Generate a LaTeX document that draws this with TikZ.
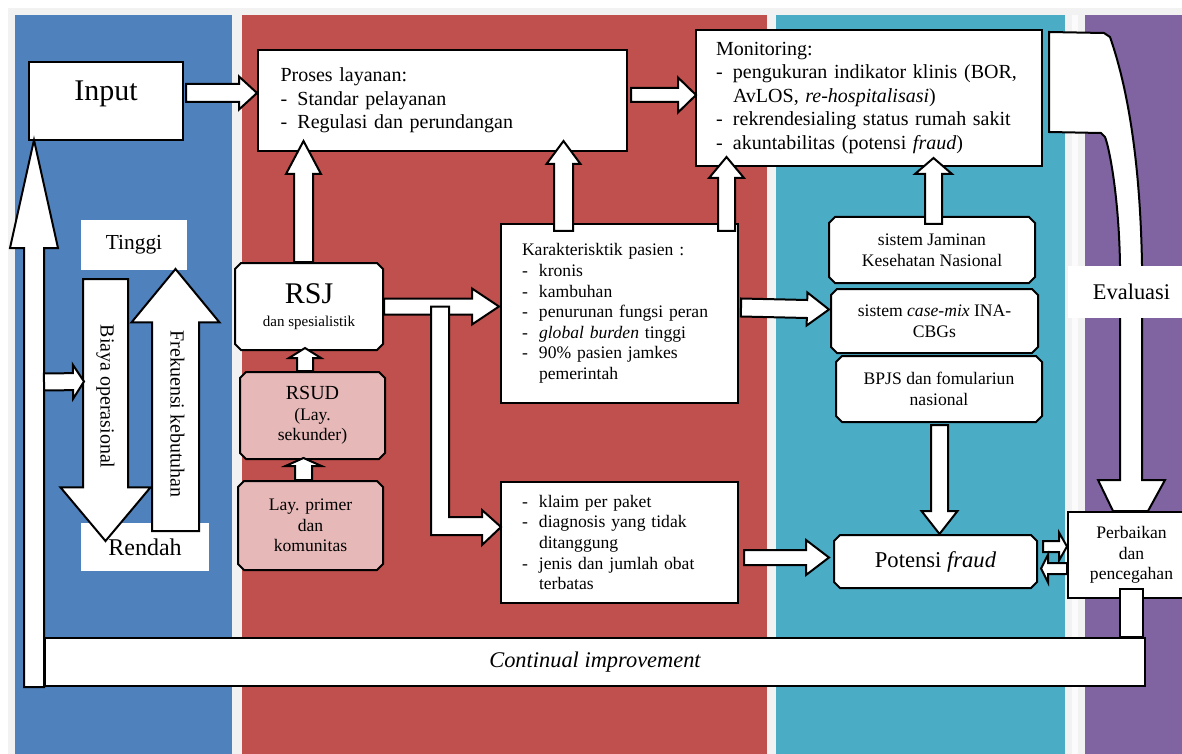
\documentclass[tikz,border=0pt]{standalone}
\usepackage{fontspec}
\setmainfont{Liberation Serif}
\usetikzlibrary{positioning,calc,shapes.misc,shapes.arrows}

\definecolor{panelblue}{HTML}{4F81BD}
\definecolor{panelred}{HTML}{C0504D}
\definecolor{panelcyan}{HTML}{4BACC6}
\definecolor{panelpurple}{HTML}{8064A2}
\definecolor{pinkfill}{HTML}{E6B9B8}
\definecolor{bggray}{HTML}{F2F2F2}

\newcommand{\fsbig}{\fontsize{10}{11.75}\selectfont}
\newcommand{\fssmall}{\fontsize{8.8}{10.3}\selectfont}
\newcommand{\dashitem}{\makebox[8.5pt][l]{-}}
\newcommand{\hang}{\hspace*{8.5pt}}

% block arrow: from, to, half shaft, half head, head length
\newcommand{\blkarrow}[5]{%
  \coordinate (ta) at #1;
  \coordinate (tb) at #2;
  \coordinate (hb) at ($(tb)!#5!(ta)$);
  \draw[blk] ($(ta)!#3!90:(tb)$) -- ($(hb)!#3!-90:(ta)$) -- ($(hb)!#4!-90:(ta)$) -- (tb)
    -- ($(hb)!#4!90:(ta)$) -- ($(hb)!#3!90:(ta)$) -- ($(ta)!#3!-90:(tb)$) -- cycle;}

\begin{document}
\begin{tikzpicture}[
    x=0.5pt, y=-0.5pt,
    blk/.style={draw, fill=white, line width=1pt, line join=miter},
    plainbox/.style={rectangle, draw, fill=white, line width=1pt, inner sep=0pt},
    listbox/.style={plainbox, align=left, font=\fssmall, text width=97.5pt, minimum width=118.5pt},
    chbox/.style={chamfered rectangle, chamfered rectangle xsep=1.5pt, chamfered rectangle ysep=1.5pt,
        draw, fill=white, line width=1pt, align=center, font=\fssmall, inner sep=0pt},
    pinkbox/.style={chbox, fill=pinkfill},
    tag/.style={rectangle, fill=white, inner sep=0pt},
    scalearrow/.style={single arrow, draw, fill=white, line width=1pt, rotate=-90, anchor=tail,
        minimum height=131pt, text height=7pt, text depth=2pt, font=\fsbig}
]
\useasboundingbox (0,0) rectangle (1182,754);
\clip (0,0) rectangle (1182,754);

% Panels
\fill[white] (0,0) rectangle (1182,754);
\fill[bggray] (8,8) rectangle (1182,754);
\fill[panelblue] (15,15) rectangle (232,754);
\fill[panelred] (242,15) rectangle (767,754);
\fill[panelcyan] (776,15) rectangle (1065,754);
\fill[white!70!bggray] (1072,15) rectangle (1078,754);
\fill[panelpurple] (1085,15) rectangle (1182,754);

% Left column
\node[tag, minimum width=53pt, minimum height=25pt, font=\fontsize{10.7}{12}\selectfont] (tinggi) at (134,245) {Tinggi};
\node[tag, minimum width=64pt, minimum height=24pt, font=\fontsize{12}{14}\selectfont] (rendah) at (145,547) {Rendah};
\node[plainbox, minimum width=77pt, minimum height=39pt, text depth=10pt, font=\fontsize{15}{18}\selectfont] (input) at (106,101) {Input};

% Service column
\node[plainbox, align=left, font=\fsbig, text width=162pt, minimum width=184.5pt, minimum height=50.5pt] (proses) at (442.5,100.5)
    {Proses layanan:\\ \dashitem Standar pelayanan\\ \dashitem Regulasi dan perundangan};
\node[chbox, minimum width=74pt, minimum height=43.5pt] (rsj) at (309,306.5)
    {{\fontsize{15}{16}\selectfont RSJ}\\[1pt]{\fontsize{7.5}{9}\selectfont dan spesialistik}};
\node[pinkbox, minimum width=72.5pt, minimum height=43.5pt, below=10pt of rsj, xshift=1.75pt] (rsud)
    {{\fontsize{10}{11}\selectfont RSUD}\\(Lay.\\sekunder)};
\node[pinkbox, minimum width=72.5pt, minimum height=44.5pt, below=10pt of rsud, xshift=-1pt] (primer)
    {Lay. primer\\dan\\komunitas};
\node[listbox, minimum height=89.5pt] (karak) at (619.5,313.5)
    {Karakterisktik pasien :\\ \dashitem kronis\\ \dashitem kambuhan\\ \dashitem penurunan fungsi peran\\
     \dashitem \textit{global burden} tinggi\\ \dashitem 90\% pasien jamkes\\ \hang pemerintah};
\node[listbox, minimum height=60.5pt] (klaim) at (619.5,542.5)
    {\dashitem klaim per paket\\ \dashitem diagnosis yang tidak\\ \hang ditanggung\\
     \dashitem jenis dan jumlah obat\\ \hang terbatas};

% Financing column
\node[plainbox, align=left, font=\fsbig, text width=153pt, minimum width=173pt, minimum height=68pt] (monitoring) at (869,98)
    {Monitoring:\\ \dashitem pengukuran indikator klinis (BOR,\\ \hang AvLOS, \textit{re-hospitalisasi})\\
     \dashitem rekrendesialing status rumah sakit\\ \dashitem akuntabilitas (potensi \textit{fraud})};
\node[chbox, minimum width=103pt, minimum height=33pt] (jaminan) at (932,250) {sistem Jaminan\\Kesehatan Nasional};
\node[chbox, minimum width=103.5pt, minimum height=32pt, below=2pt of jaminan, xshift=1.25pt] (casemix)
    {sistem \textit{case-mix} INA-\\CBGs};
\node[chbox, minimum width=103pt, minimum height=33pt, below=0.5pt of casemix, xshift=2.25pt] (bpjs)
    {BPJS dan fomulariun\\nasional};
\node[chbox, minimum width=101.5pt, minimum height=26.5pt, font=\fontsize{11.3}{13}\selectfont] (potensi) at (935.5,561.5)
    {Potensi \textit{fraud}};

% Evaluation column
\node[plainbox, minimum width=63.5pt, minimum height=43pt, align=center, font=\fssmall] (perbaikan) at (1131.5,555)
    {Perbaikan\\dan\\pencegahan};
\node[plainbox, minimum width=550pt, minimum height=24pt, font=\fontsize{11.2}{13}\itshape] (cont) at (595,662)
    {Continual improvement};

% Block arrows
\blkarrow{($(input.east)+(2,-8)$)}{($(proses.west)+(0,-7.5)$)}{4.5pt}{8.25pt}{9pt}
\blkarrow{($(proses.east)+(3,-5.5)$)}{($(monitoring.west)+(1,-3)$)}{3.5pt}{8.75pt}{9pt}
\blkarrow{($(rsj.north)+(-5.5,0)$)}{($(proses.south)+(-139,-11)$)}{4.75pt}{8.75pt}{16.5pt}
\blkarrow{($(rsud.north)+(-7.5,0)$)}{($(rsj.south)+(-4,-3)$)}{4pt}{8pt}{5pt}
\blkarrow{($(primer.north)+(-7,0)$)}{($(rsud.south)+(-9,-2)$)}{4.25pt}{9pt}{4pt}
\blkarrow{(rsj.east)}{($(karak.west)+(-1,-7)$)}{4pt}{9pt}{13.5pt}
\coordinate (branch) at ($(rsj.east)+(56,0)$);
\draw[blk] ($(branch)+(-9,0)$) -- ($(branch)+(9,0)$) -- ($(branch)+(9,210.5)$) -- ($(klaim.west)+(-18,-25.5)$)
    -- ++(0,-7) -- ($(klaim.west)+(1,-15.5)$) -- ($(klaim.west)+(-18,2.5)$) -- ++(0,-10)
    -- ($(branch)+(-9,228.5)$) -- cycle;
\blkarrow{($(karak.north)+(-56,8)$)}{($(proses.south)+(121,-11)$)}{4.75pt}{8.5pt}{11.5pt}
\blkarrow{($(karak.north)+(107,8)$)}{($(monitoring.south)+(-142.5,-10)$)}{4.25pt}{8.75pt}{10.5pt}
\blkarrow{($(karak.east)+(2,-6)$)}{($(casemix.west)+(-1,-11.5)$)}{4.5pt}{8.25pt}{11pt}
\blkarrow{($(klaim.east)+(5,15)$)}{($(potensi.west)+(-4,-4)$)}{3.75pt}{8.75pt}{11.5pt}
\blkarrow{($(jaminan.north)+(1.5,8)$)}{($(monitoring.south)+(64.5,-9)$)}{4.25pt}{9.25pt}{8pt}
\blkarrow{($(bpjs.south)+(0.5,2)$)}{($(potensi.north)+(4,0)$)}{4.25pt}{9pt}{11.5pt}
\blkarrow{($(potensi.east)+(5,-15)$)}{($(perbaikan.west)+(0,-8.5)$)}{2.75pt}{7pt}{4pt}
\blkarrow{($(perbaikan.west)+(0,13.5)$)}{($(potensi.east)+(3,7)$)}{2.75pt}{7pt}{3.5pt}

% Feedback loop
\blkarrow{($(cont.south west)+(-10,0)$)}{($(input.south west)+(6,-1)$)}{5pt}{12pt}{54pt}
\node[scalearrow, inner ysep=6.25pt, single arrow head extend=11.25pt, single arrow tip angle=80] (biaya) at (105.5,278)
    {Biaya operasional};
\node[scalearrow, shape border rotate=180, inner ysep=6.75pt, single arrow head extend=10.25pt, single arrow tip angle=79] (frekuensi) at (175.5,532)
    {Frekuensi kebutuhan};
\blkarrow{($(input.south west)+(16,241)$)}{($(biaya.tail)+(-21.5,103.5)$)}{4.25pt}{8.5pt}{5.5pt}

% Evaluation arrow
\draw[blk] ($(monitoring.north east)+(6,3)$) -- (1104,33) -- (1110,37) .. controls (1125,80) and (1140,150) .. (1142,265)
    -- (1142,480) -- (1165,480) -- ($(perbaikan.north)+(16.5,0)$) -- ($(perbaikan.north)+(-18.5,0)$)
    -- (1098,480) -- (1120,480) -- (1120,265) .. controls (1119,200) and (1110,150) .. (1105,137)
    -- (1101,133) -- ($(monitoring.north east)+(6,103)$) -- cycle;
\node[tag, minimum width=63.5pt, minimum height=26pt, font=\fontsize{11.2}{13}\selectfont] (evaluasi) at (1131.5,292) {Evaluasi};
\draw[blk] ($(perbaikan.south)+(-11.5,-10)$) rectangle ($(cont.north east)+(-3,0)$);

\end{tikzpicture}
\end{document}
